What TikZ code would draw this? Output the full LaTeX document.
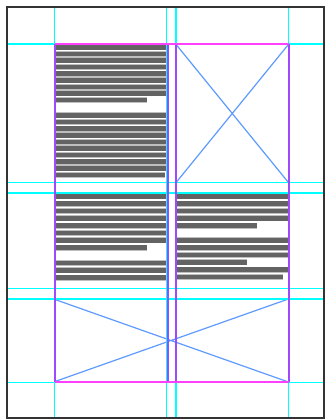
\documentclass[tikz,border=0pt]{standalone}
\definecolor{guide}{HTML}{00FFFF}
\definecolor{colpurple}{HTML}{A048FF}
\definecolor{marginmag}{HTML}{FF40FF}
\definecolor{xblue}{HTML}{5F9BFF}
\definecolor{bardark}{HTML}{636363}
\definecolor{barlight}{HTML}{BEBEBE}
\definecolor{frame}{HTML}{333333}
% #1 x start, #2 x end, #3 first centre y, #4 pitch, #5 number of lines, #6 x end of last line
\newcommand\barlines[6]{%
  \foreach \i in {1,...,#5}{%
    \pgfmathsetmacro\yy{#3+(\i-1)*#4}%
    \pgfmathsetmacro\xe{\i==#5 ? #6 : #2}%
    \fill[barlight] (#1,\yy-3) rectangle (\xe,\yy+3);
    \fill[bardark] (#1,\yy-2.3) rectangle (\xe,\yy+2.3);
  }%
}
\begin{document}
\begin{tikzpicture}[x=1pt,y=-1pt,
  guideline/.style={guide,line width=1.6pt},
  colline/.style={colpurple,line width=2pt},
  marginline/.style={marginmag,line width=1.8pt},
  crossline/.style={xblue,line width=1.2pt}]
\useasboundingbox (0,0) rectangle (325,419);
\fill[white] (0,0) rectangle (325,419);
% text bars
\barlines{55.5}{166}{47.3}{6.6}{9}{147}
\barlines{55.5}{166}{115.5}{6.6}{10}{165}
\barlines{55.5}{166}{196.5}{7.3}{8}{147}
\barlines{55.5}{166}{263}{7.3}{3}{166}
\barlines{177}{288}{196.5}{7.3}{5}{257}
\barlines{177}{288}{240.3}{7.3}{4}{247}
\barlines{177}{288}{269.5}{7.3}{2}{283}
% picture placeholders
\coordinate (a1) at (176.5,45);
\coordinate (a2) at (288,45);
\coordinate (a3) at (176.5,182);
\coordinate (a4) at (288,182);
\draw[crossline] (a1) -- (a4) (a2) -- (a3);
\coordinate (b1) at (55,299.5);
\coordinate (b2) at (287,299.5);
\coordinate (b3) at (55,381.5);
\coordinate (b4) at (287,381.5);
\draw[crossline] (b1) -- (b4) (b2) -- (b3);
% guides
\foreach \x in {54.5,166.5,176,288.5} \draw[guideline] (\x,7) -- (\x,418);
\foreach \y in {44,182.7,193.3,288.3,299,382.3} \draw[guideline] (7,\y) -- (324,\y);
% columns
\foreach \x in {54.5,167.5,176,288.5} \draw[colline] (\x,44) -- (\x,382.3);
% margins
\draw[marginline] (54.5,44) -- (288.5,44);
\draw[marginline] (54.5,382.3) -- (288.5,382.3);
% page frame
\draw[frame,line width=1.8pt] (7,7) rectangle (324,418);
\end{tikzpicture}
\end{document}
